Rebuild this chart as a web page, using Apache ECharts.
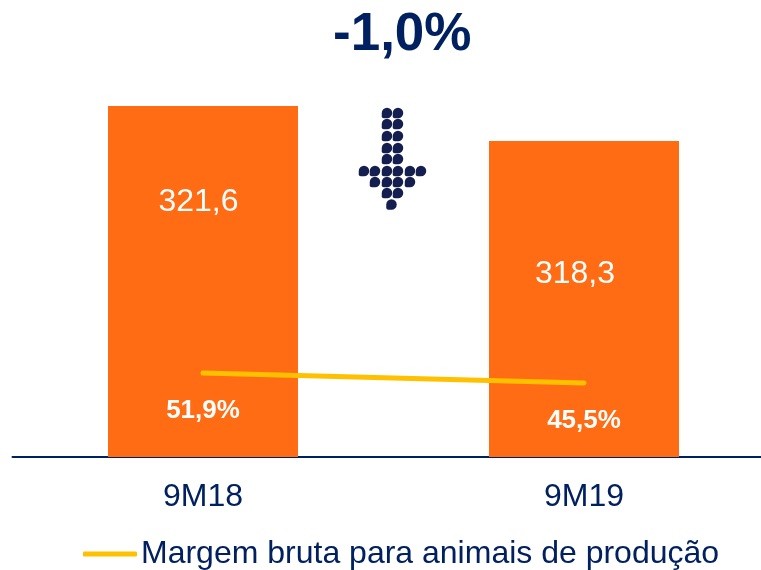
<!DOCTYPE html>
<html><head><meta charset="utf-8">
<style>html,body{margin:0;padding:0;background:#fff}#c{width:761px;height:570px}</style>
<script src="https://cdn.jsdelivr.net/npm/echarts@6/dist/echarts.min.js"></script>
</head><body><div id="c"></div>
<script>
const categories = ['9M18', '9M19'];
const barValues = [321.6, 318.3];
const barLabels = ['321,6', '318,3'];
const marginValues = [51.9, 45.5];
const marginLabels = ['51,9%', '45,5%'];
const lineName = 'Margem bruta para animais de produção';
const title = '-1,0%';
const NAVY = '#002060', ORANGE = '#FF6C14', YELLOW = '#FFC000', DOT = '#141F50';
const FONT = '"Liberation Sans", Arial, sans-serif';

// decorative dotted arrow
const arrowRows = [
  [[387,113],[398,113]],[[387,124],[398,124]],[[387,136],[398,136]],[[387,148],[398,148]],[[387,159],[398,159]],
  [[364,171],[375,171],[387,171],[398,171],[410,171],[421,171]],
  [[375,182],[387,182],[398,182],[410,182]],
  [[387,193],[398,193]],[[391.5,204.5]]
];
const arrowGraphic = arrowRows.flat().map(([x, y]) => ({
  type: 'rect', silent: true,
  shape: { x: x - 5.25, y: y - 5.25, width: 10.5, height: 10.5, r: [5.25, 5.25, 5.25, 2] },
  style: { fill: DOT }
}));

const chart = echarts.init(document.getElementById('c'), null, { renderer: 'canvas' });
chart.setOption({
  animation: false,
  backgroundColor: '#fff',
  title: { text: title, left: 333, top: 9, padding: 0,
    textStyle: { color: NAVY, fontFamily: FONT, fontWeight: 'bold', fontSize: 53 } },
  legend: {
    data: [{ name: lineName, icon: 'roundRect' }],
    left: 83, top: 538, padding: 0, itemWidth: 54, itemHeight: 5, itemGap: 0,
    textStyle: { color: NAVY, fontFamily: FONT, fontSize: 32, padding: [0, 0, 0, -1] }
  },
  grid: { left: 12.5, width: 762, top: 106, height: 351, outerBoundsMode: 'none' },
  xAxis: {
    type: 'category', data: categories,
    axisLine: { onZero: false, lineStyle: { color: NAVY, width: 2 } },
    axisTick: { show: false },
    axisLabel: { color: NAVY, fontFamily: FONT, fontSize: 32, margin: 24 }
  },
  yAxis: [
    { type: 'value', min: 288.5, max: 321.6, show: false, splitLine: { show: false } },
    { type: 'value', min: -1.86, max: 222.78, show: false, splitLine: { show: false } }
  ],
  graphic: arrowGraphic,
  series: [
    { type: 'bar', name: 'Receita', yAxisIndex: 0, barWidth: 190,
      itemStyle: { color: ORANGE },
      data: barValues.map((v, i) => ({
        value: v,
        label: { show: true, position: 'insideTop', distance: i === 0 ? 80 : 117,
          offset: [i === 0 ? -4.5 : -9, 0],
          formatter: barLabels[i], color: '#fff', fontFamily: FONT, fontSize: 32 }
      })) },
    { type: 'line', name: lineName, yAxisIndex: 1, symbol: 'circle', symbolSize: 1, showSymbol: true, z: 5,
      lineStyle: { color: YELLOW, width: 5, cap: 'round' },
      itemStyle: { color: YELLOW },
      data: marginValues.map((v, i) => ({
        value: v,
        label: { show: true, position: 'bottom', distance: 24,
          formatter: marginLabels[i], color: '#fff', fontFamily: FONT, fontWeight: 'bold', fontSize: 26 }
      })) }
  ]
});
</script></body></html>
